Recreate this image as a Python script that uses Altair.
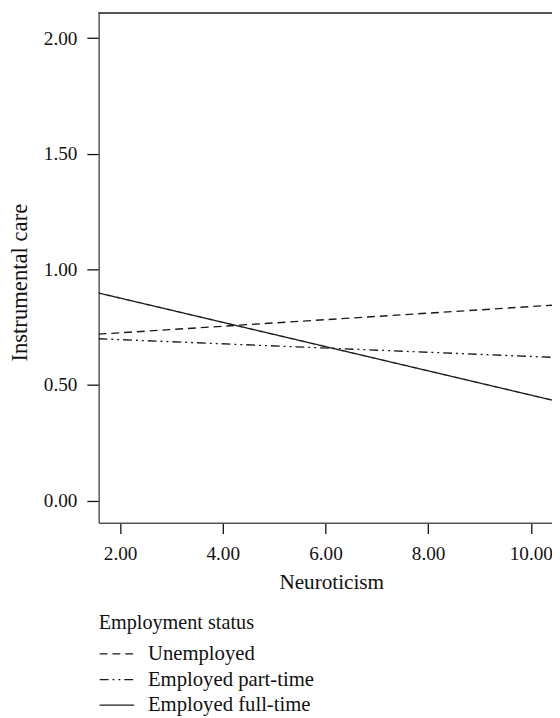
import altair as alt
import pandas as pd

# Data
status = ["Unemployed", "Employed part-time", "Employed full-time"]
neuro_ends = [1.58, 10.41]
unemployed = [0.720, 0.845]
part_time = [0.700, 0.620]
full_time = [0.898, 0.435]

x_ticks = [2, 4, 6, 8, 10]
y_ticks = [0.0, 0.5, 1.0, 1.5, 2.0]

rows = []
for name, vals in zip(status, [unemployed, part_time, full_time]):
    for xv, yv in zip(neuro_ends, vals):
        rows.append({"Neuroticism": xv, "Instrumental care": yv, "Employment status": name})
df = pd.DataFrame(rows)

FONT = "Liberation Serif"
INK = "#1a1a1a"

lines = alt.Chart(df).mark_line(strokeWidth=1.4, color=INK, clip=True).encode(
    x=alt.X("Neuroticism:Q",
            scale=alt.Scale(domain=[1.583, 10.412], nice=False, zero=False),
            axis=alt.Axis(values=x_ticks, format=".2f", tickSize=11, labelPadding=11,
                          titleX=236, titleY=61, titleBaseline="middle",
                          titleFontSize=21.5, grid=False)),
    y=alt.Y("Instrumental care:Q",
            scale=alt.Scale(domain=[-0.095, 2.108], nice=False, zero=False),
            axis=alt.Axis(values=y_ticks, format=".2f", tickSize=12, labelPadding=10,
                          titleX=-80, titleY=273, titleBaseline="middle",
                          titleFontSize=23, grid=False)),
    strokeDash=alt.StrokeDash(
        "Employment status:N",
        sort=status,
        scale=alt.Scale(domain=status, range=[[8, 5], [9, 4, 2, 4, 2, 4], [1, 0]]),
        legend=alt.Legend(orient="none", legendX=0, legendY=609,
                          symbolType="stroke", symbolSize=1225, symbolStrokeWidth=1.3,
                          symbolStrokeColor=INK, labelOffset=13, rowPadding=0,
                          clipHeight=25.5, titlePadding=8, labelLimit=400),
    ),
    detail="Employment status:N",
)

top_border = alt.Chart(df).mark_rule(color="#555555", strokeWidth=1.5).encode(
    x=alt.value(0), x2=alt.value(460), y=alt.value(0)
)

chart = alt.layer(lines, top_border).properties(
    width=460, height=517,
    autosize=alt.AutoSizeParams(type="none"),
    padding={"left": 92, "top": 0, "right": 0, "bottom": 192},
).configure_view(stroke=None).configure_axis(
    labelFont=FONT, titleFont=FONT, labelFontSize=19.5,
    labelColor="#111111", titleColor="#111111", titleFontWeight="normal",
    domainColor="#555555", domainWidth=1.5, tickColor="#111111", tickWidth=1.3,
).configure_legend(
    labelFont=FONT, titleFont=FONT, labelFontSize=21, titleFontSize=20.5,
    titleFontWeight="normal", labelColor="#111111", titleColor="#111111",
)

chart.save("out.html", embed_options={"renderer": "svg", "actions": False})
